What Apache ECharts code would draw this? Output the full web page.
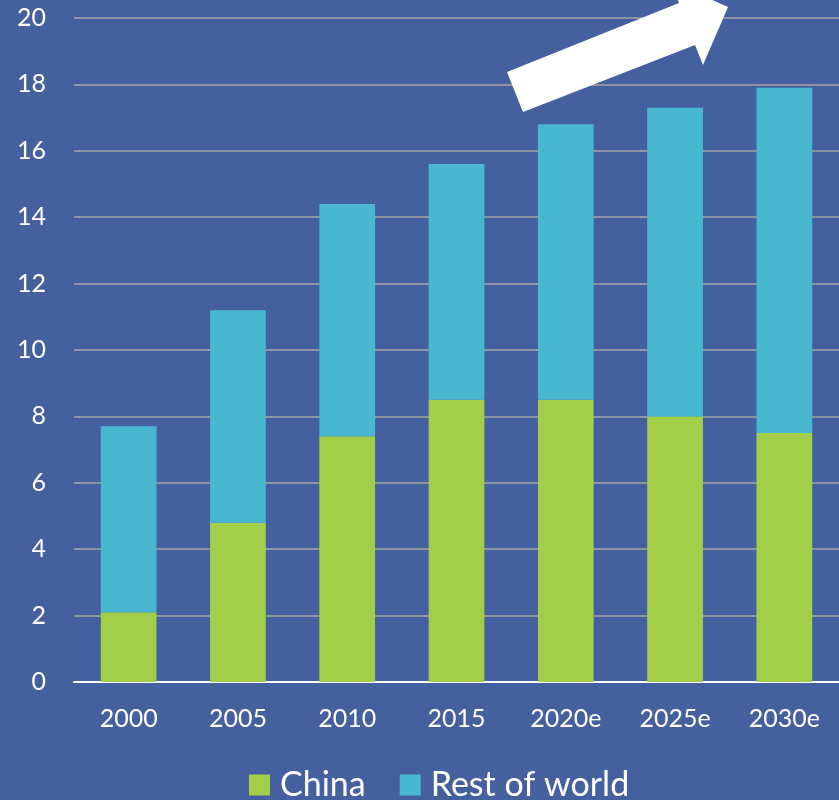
<!DOCTYPE html>
<html>
<head>
<meta charset="utf-8">
<script src="https://cdn.jsdelivr.net/npm/echarts@6/dist/echarts.min.js"></script>
<style>
html,body{margin:0;padding:0;background:#44609f;}
#c{width:839px;height:800px;}
</style>
</head>
<body>
<div id="c"></div>
<script>
var categories = ['2000', '2005', '2010', '2015', '2020e', '2025e', '2030e'];
var china = [2.1, 4.8, 7.4, 8.5, 8.5, 8.0, 7.5];
var restOfWorld = [5.6, 6.4, 7.0, 7.1, 8.3, 9.3, 10.4];
var yTicks = [0, 2, 4, 6, 8, 10, 12, 14, 16, 18, 20];

var chart = echarts.init(document.getElementById('c'), null, {renderer: 'canvas'});
var FONT = 'Lato';
chart.setOption({
  backgroundColor: '#44609f',
  animation: false,
  grid: {left: 74, right: 0, top: 18, bottom: 118, containLabel: false},
  legend: {
    data: ['China', 'Rest of world'],
    left: 244, top: 763,
    icon: 'rect', itemWidth: 21, itemHeight: 21, itemGap: 34,
    textStyle: {color: '#ffffff', fontSize: 34, fontFamily: FONT, padding: [0, 0, 0, 5]}
  },
  xAxis: {
    type: 'category',
    data: categories,
    axisLine: {show: true, lineStyle: {color: '#ffffff', width: 2}},
    axisTick: {show: false},
    axisLabel: {color: '#ffffff', fontSize: 25, fontFamily: FONT, margin: 24}
  },
  yAxis: {
    type: 'value',
    min: yTicks[0], max: yTicks[yTicks.length - 1], interval: 2,
    axisLine: {show: false},
    axisTick: {show: false},
    axisLabel: {color: '#ffffff', fontSize: 25, fontFamily: FONT, margin: 28},
    splitLine: {lineStyle: {color: '#a6a6a6', width: 1.5}}
  },
  series: [
    {name: 'China', type: 'bar', stack: 'total', data: china, barWidth: '51%',
     itemStyle: {color: '#a2ce4a'}},
    {name: 'Rest of world', type: 'bar', stack: 'total', data: restOfWorld, barWidth: '51%',
     itemStyle: {color: '#48b8d0'}}
  ],
  graphic: [{
    type: 'polygon',
    z: 100,
    shape: {points: [[507,72],[679,3],[670,-19],[728,7],[703,65],[695,45],[523,112]]},
    style: {fill: '#ffffff'}
  }]
});
</script>
</body>
</html>
